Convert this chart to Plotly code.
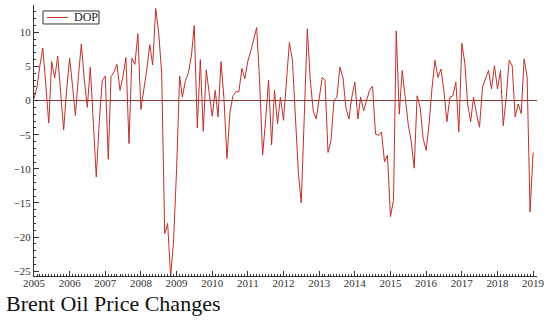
import plotly.graph_objects as go
import pandas as pd

series_name = "DOP"
start_month = "2005-01-01"
dop = [
    0.3, 2.0, 5.0, 7.7, 2.5, -3.3, 5.7, 3.3, 6.5, 1.5, -4.3, 1.5,
    6.2, 2.0, -2.2, 3.5, 8.3, 3.0, -1.0, 4.9, -3.0, -11.2, -3.0, 2.9,
    3.6, -8.6, 3.5, 4.2, 5.3, 1.5, 3.5, 6.3, -6.3, 6.2, 5.3, 9.8,
    -1.3, 1.5, 4.5, 8.2, 5.2, 13.5, 10.0, 4.0, -19.5, -18.0, -25.8, -20.5,
    -10.0, 3.6, 0.5, 2.9, 4.0, 6.5, 11.0, -4.0, 6.0, -4.5, 4.5, 1.0,
    -2.3, 1.5, -2.4, 5.7, 0.3, -8.5, -1.8, 0.7, 1.3, 1.3, 4.7, 3.2,
    5.8, 7.3, 9.0, 10.7, 3.0, -8.0, -3.0, 3.0, -6.5, 1.5, -3.4, 0.5,
    -2.9, 2.4, 8.5, 6.0, -3.0, -10.5, -15.0, -2.0, 10.5, 3.0, -1.5, -2.7,
    0.5, 3.4, 3.0, -7.6, -5.9, 0.0, 0.5, 4.9, 3.4, -1.0, -2.7, 0.5,
    2.7, -2.7, 0.5, -1.5, 0.0, 1.5, 2.1, -4.9, -5.1, -4.6, -9.0, -8.0,
    -17.0, -14.6, 10.2, -2.0, 4.4, 0.5, -3.4, -6.0, -9.9, 0.7, -1.0, -5.5,
    -7.3, -3.4, 1.8, 5.9, 3.4, 4.6, 1.5, -3.1, 0.5, 0.7, 2.7, -4.6,
    8.4, 5.5, -0.5, -3.1, 0.5, -2.0, -3.9, 2.0, 3.2, 4.4, 1.7, 5.1,
    1.7, 4.4, -3.7, 0.5, 5.9, 5.1, -2.4, -0.5, -1.9, 6.1, 3.4, -16.3,
    -7.6,
]
y_ticks = [10, 5, 0, -5, -10, -15, -20, -25]
x_tick_years = list(range(2005, 2020))
chart_title = "Brent Oil Price Changes"

line_color = "#c0302a"
dates = pd.date_range(start_month, periods=len(dop), freq="MS")

fig = go.Figure()
fig.add_trace(go.Scatter(
    x=dates, y=dop, mode="lines", name=series_name,
    line=dict(color=line_color, width=1), showlegend=False,
))

serif = "Liberation Serif, Times New Roman, serif"
fig.update_layout(
    width=550, height=325,
    margin=dict(l=34, r=13, t=5, b=49, autoexpand=False),
    paper_bgcolor="white", plot_bgcolor="white",
    font=dict(family=serif, size=11, color="#333333"),
    showlegend=False,
)
fig.update_xaxes(
    type="date", automargin=False,
    range=["2005-01-01", "2019-02-10"],
    tickvals=[pd.Timestamp(f"{y}-01-01") for y in x_tick_years],
    ticktext=[str(y) for y in x_tick_years],
    showline=True, linecolor="#333333", linewidth=1,
    ticks="inside", ticklen=5, tickcolor="#333333",
    ticklabelstandoff=-3,
    minor=dict(dtick="M1", ticks="inside", ticklen=2, tickcolor="#333333", showgrid=False),
    showgrid=False, zeroline=False,
    tickfont=dict(family=serif, size=11, color="#333333"),
)
fig.update_yaxes(
    automargin=False,
    range=[-25.7, 14],
    tickvals=y_ticks,
    showline=True, linecolor="#333333", linewidth=1,
    ticks="inside", ticklen=5, tickcolor="#333333",
    minor=dict(dtick=1, ticks="inside", ticklen=2, tickcolor="#333333", showgrid=False),
    showgrid=False,
    zeroline=True, zerolinecolor="#8b3a3a", zerolinewidth=1,
    tickfont=dict(family=serif, size=11, color="#333333"),
)
# compact legend box (as in the reference)
fig.add_shape(type="rect", xref="paper", yref="paper",
              x0=0.0179, x1=0.1292, y0=0.930, y1=0.978,
              line=dict(color="#333333", width=1), fillcolor="white", layer="above")
fig.add_shape(type="line", xref="paper", yref="paper",
              x0=0.0258, x1=0.0676, y0=0.954, y1=0.954,
              line=dict(color=line_color, width=1), layer="above")
fig.add_annotation(
    text=series_name, xref="paper", yref="paper",
    x=0.0755, y=0.954, xanchor="left", yanchor="middle",
    showarrow=False, font=dict(family=serif, size=12, color="#222222"),
)
fig.add_annotation(
    text=chart_title, xref="paper", yref="paper",
    x=-0.060, y=-0.103, xanchor="left", yanchor="middle",
    showarrow=False, font=dict(family=serif, size=22, color="#111111"),
)
fig.write_html(
    "out.html",
    config={"displayModeBar": False},
    post_script="document.body.style.margin='0';document.body.style.padding='0';",
)
